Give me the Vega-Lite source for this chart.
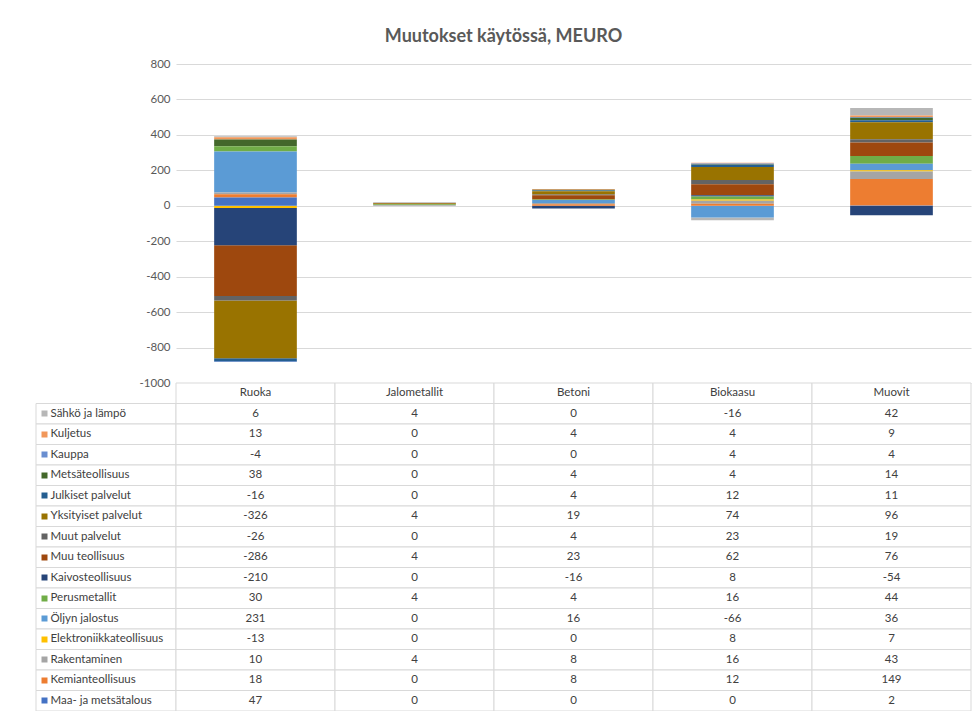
{
  "$schema": "https://vega.github.io/schema/vega-lite/v6.json",
  "padding": {"left": 35, "top": 28, "right": 5, "bottom": 0},
  "background": "white",
  "title": {"text": "Muutokset käytössä, MEURO", "fontSize": 18, "font": "Lato", "fontWeight": "bold", "color": "#595959", "offset": 12, "anchor": "middle"},
  "config": {"font": "Lato", "view": {"stroke": null}},
  "datasets": {
    "cats": [{"cat": "Ruoka"}, {"cat": "Jalometallit"}, {"cat": "Betoni"}, {"cat": "Biokaasu"}, {"cat": "Muovit"}],
    "d": [
      {"series": "Sähkö ja lämpö", "k": 15, "cat": "Ruoka", "v": 6},
      {"series": "Sähkö ja lämpö", "k": 15, "cat": "Jalometallit", "v": 4},
      {"series": "Sähkö ja lämpö", "k": 15, "cat": "Betoni", "v": 0},
      {"series": "Sähkö ja lämpö", "k": 15, "cat": "Biokaasu", "v": -16},
      {"series": "Sähkö ja lämpö", "k": 15, "cat": "Muovit", "v": 42},
      {"series": "Kuljetus", "k": 14, "cat": "Ruoka", "v": 13},
      {"series": "Kuljetus", "k": 14, "cat": "Jalometallit", "v": 0},
      {"series": "Kuljetus", "k": 14, "cat": "Betoni", "v": 4},
      {"series": "Kuljetus", "k": 14, "cat": "Biokaasu", "v": 4},
      {"series": "Kuljetus", "k": 14, "cat": "Muovit", "v": 9},
      {"series": "Kauppa", "k": 13, "cat": "Ruoka", "v": -4},
      {"series": "Kauppa", "k": 13, "cat": "Jalometallit", "v": 0},
      {"series": "Kauppa", "k": 13, "cat": "Betoni", "v": 0},
      {"series": "Kauppa", "k": 13, "cat": "Biokaasu", "v": 4},
      {"series": "Kauppa", "k": 13, "cat": "Muovit", "v": 4},
      {"series": "Metsäteollisuus", "k": 12, "cat": "Ruoka", "v": 38},
      {"series": "Metsäteollisuus", "k": 12, "cat": "Jalometallit", "v": 0},
      {"series": "Metsäteollisuus", "k": 12, "cat": "Betoni", "v": 4},
      {"series": "Metsäteollisuus", "k": 12, "cat": "Biokaasu", "v": 4},
      {"series": "Metsäteollisuus", "k": 12, "cat": "Muovit", "v": 14},
      {"series": "Julkiset palvelut", "k": 11, "cat": "Ruoka", "v": -16},
      {"series": "Julkiset palvelut", "k": 11, "cat": "Jalometallit", "v": 0},
      {"series": "Julkiset palvelut", "k": 11, "cat": "Betoni", "v": 4},
      {"series": "Julkiset palvelut", "k": 11, "cat": "Biokaasu", "v": 12},
      {"series": "Julkiset palvelut", "k": 11, "cat": "Muovit", "v": 11},
      {"series": "Yksityiset palvelut", "k": 10, "cat": "Ruoka", "v": -326},
      {"series": "Yksityiset palvelut", "k": 10, "cat": "Jalometallit", "v": 4},
      {"series": "Yksityiset palvelut", "k": 10, "cat": "Betoni", "v": 19},
      {"series": "Yksityiset palvelut", "k": 10, "cat": "Biokaasu", "v": 74},
      {"series": "Yksityiset palvelut", "k": 10, "cat": "Muovit", "v": 96},
      {"series": "Muut palvelut", "k": 9, "cat": "Ruoka", "v": -26},
      {"series": "Muut palvelut", "k": 9, "cat": "Jalometallit", "v": 0},
      {"series": "Muut palvelut", "k": 9, "cat": "Betoni", "v": 4},
      {"series": "Muut palvelut", "k": 9, "cat": "Biokaasu", "v": 23},
      {"series": "Muut palvelut", "k": 9, "cat": "Muovit", "v": 19},
      {"series": "Muu teollisuus", "k": 8, "cat": "Ruoka", "v": -286},
      {"series": "Muu teollisuus", "k": 8, "cat": "Jalometallit", "v": 4},
      {"series": "Muu teollisuus", "k": 8, "cat": "Betoni", "v": 23},
      {"series": "Muu teollisuus", "k": 8, "cat": "Biokaasu", "v": 62},
      {"series": "Muu teollisuus", "k": 8, "cat": "Muovit", "v": 76},
      {"series": "Kaivosteollisuus", "k": 7, "cat": "Ruoka", "v": -210},
      {"series": "Kaivosteollisuus", "k": 7, "cat": "Jalometallit", "v": 0},
      {"series": "Kaivosteollisuus", "k": 7, "cat": "Betoni", "v": -16},
      {"series": "Kaivosteollisuus", "k": 7, "cat": "Biokaasu", "v": 8},
      {"series": "Kaivosteollisuus", "k": 7, "cat": "Muovit", "v": -54},
      {"series": "Perusmetallit", "k": 6, "cat": "Ruoka", "v": 30},
      {"series": "Perusmetallit", "k": 6, "cat": "Jalometallit", "v": 4},
      {"series": "Perusmetallit", "k": 6, "cat": "Betoni", "v": 4},
      {"series": "Perusmetallit", "k": 6, "cat": "Biokaasu", "v": 16},
      {"series": "Perusmetallit", "k": 6, "cat": "Muovit", "v": 44},
      {"series": "Öljyn jalostus", "k": 5, "cat": "Ruoka", "v": 231},
      {"series": "Öljyn jalostus", "k": 5, "cat": "Jalometallit", "v": 0},
      {"series": "Öljyn jalostus", "k": 5, "cat": "Betoni", "v": 16},
      {"series": "Öljyn jalostus", "k": 5, "cat": "Biokaasu", "v": -66},
      {"series": "Öljyn jalostus", "k": 5, "cat": "Muovit", "v": 36},
      {"series": "Elektroniikkateollisuus", "k": 4, "cat": "Ruoka", "v": -13},
      {"series": "Elektroniikkateollisuus", "k": 4, "cat": "Jalometallit", "v": 0},
      {"series": "Elektroniikkateollisuus", "k": 4, "cat": "Betoni", "v": 0},
      {"series": "Elektroniikkateollisuus", "k": 4, "cat": "Biokaasu", "v": 8},
      {"series": "Elektroniikkateollisuus", "k": 4, "cat": "Muovit", "v": 7},
      {"series": "Rakentaminen", "k": 3, "cat": "Ruoka", "v": 10},
      {"series": "Rakentaminen", "k": 3, "cat": "Jalometallit", "v": 4},
      {"series": "Rakentaminen", "k": 3, "cat": "Betoni", "v": 8},
      {"series": "Rakentaminen", "k": 3, "cat": "Biokaasu", "v": 16},
      {"series": "Rakentaminen", "k": 3, "cat": "Muovit", "v": 43},
      {"series": "Kemianteollisuus", "k": 2, "cat": "Ruoka", "v": 18},
      {"series": "Kemianteollisuus", "k": 2, "cat": "Jalometallit", "v": 0},
      {"series": "Kemianteollisuus", "k": 2, "cat": "Betoni", "v": 8},
      {"series": "Kemianteollisuus", "k": 2, "cat": "Biokaasu", "v": 12},
      {"series": "Kemianteollisuus", "k": 2, "cat": "Muovit", "v": 149},
      {"series": "Maa- ja metsätalous", "k": 1, "cat": "Ruoka", "v": 47},
      {"series": "Maa- ja metsätalous", "k": 1, "cat": "Jalometallit", "v": 0},
      {"series": "Maa- ja metsätalous", "k": 1, "cat": "Betoni", "v": 0},
      {"series": "Maa- ja metsätalous", "k": 1, "cat": "Biokaasu", "v": 0},
      {"series": "Maa- ja metsätalous", "k": 1, "cat": "Muovit", "v": 2}
    ]
  },
  "columns": 2,
  "spacing": 0,
  "bounds": "flush",
  "concat": [
    {
      "width": 140,
      "height": 319,
      "data": {"values": []},
      "mark": "point"
    },
    {
      "width": 795,
      "height": 319,
      "data": {"name": "d"},
      "mark": {"type": "bar"},
      "encoding": {
        "x": {"field": "cat", "type": "nominal", "sort": ["Ruoka", "Jalometallit", "Betoni", "Biokaasu", "Muovit"], "axis": null, "scale": {"paddingInner": 0.48, "paddingOuter": 0.24}},
        "y": {"field": "v", "type": "quantitative", "stack": "zero", "scale": {"domain": [-1000, 800], "nice": false}, "axis": {"values": [-1000, -800, -600, -400, -200, 0, 200, 400, 600, 800], "labelExpr": "'' + datum.value", "title": null, "domain": false, "ticks": false, "labelPadding": 6, "labelColor": "#595959", "labelFontSize": 11.5, "gridColor": "#d9d9d9"}},
        "color": {"field": "series", "type": "nominal", "legend": null, "scale": {
          "domain": ["Maa- ja metsätalous", "Kemianteollisuus", "Rakentaminen", "Elektroniikkateollisuus", "Öljyn jalostus", "Perusmetallit", "Kaivosteollisuus", "Muu teollisuus", "Muut palvelut", "Yksityiset palvelut", "Julkiset palvelut", "Metsäteollisuus", "Kauppa", "Kuljetus", "Sähkö ja lämpö"],
          "range": ["#4472C4", "#ED7D31", "#A5A5A5", "#FFC000", "#5B9BD5", "#70AD47", "#264478", "#9E480E", "#636363", "#997300", "#255E91", "#43682B", "#698ED0", "#F1975A", "#B7B7B7"]}},
        "order": {"field": "k", "type": "quantitative", "sort": "ascending"}
      }
    },
    {
      "width": 140,
      "height": 328,
      "data": {"name": "d"},
      "transform": [{"filter": "datum.cat === 'Ruoka'"}],
      "mark": {"type": "rect", "fill": "white", "stroke": "#d9d9d9", "strokeWidth": 1},
      "encoding": {
        "y": {"field": "series", "type": "nominal", "scale": {"domain": ["_h", "Sähkö ja lämpö", "Kuljetus", "Kauppa", "Metsäteollisuus", "Julkiset palvelut", "Yksityiset palvelut", "Muut palvelut", "Muu teollisuus", "Kaivosteollisuus", "Perusmetallit", "Öljyn jalostus", "Elektroniikkateollisuus", "Rakentaminen", "Kemianteollisuus", "Maa- ja metsätalous"], "paddingInner": 0, "paddingOuter": 0},
          "axis": {"orient": "left", "offset": -11, "zindex": 2, "domain": false, "grid": false, "ticks": true, "tickSize": 6, "tickWidth": 6, "tickCap": "butt",
            "tickColor": {"condition": [
              {"test": "datum.value === 'Maa- ja metsätalous'", "value": "#4472C4"},
              {"test": "datum.value === 'Kemianteollisuus'", "value": "#ED7D31"},
              {"test": "datum.value === 'Rakentaminen'", "value": "#A5A5A5"},
              {"test": "datum.value === 'Elektroniikkateollisuus'", "value": "#FFC000"},
              {"test": "datum.value === 'Öljyn jalostus'", "value": "#5B9BD5"},
              {"test": "datum.value === 'Perusmetallit'", "value": "#70AD47"},
              {"test": "datum.value === 'Kaivosteollisuus'", "value": "#264478"},
              {"test": "datum.value === 'Muu teollisuus'", "value": "#9E480E"},
              {"test": "datum.value === 'Muut palvelut'", "value": "#636363"},
              {"test": "datum.value === 'Yksityiset palvelut'", "value": "#997300"},
              {"test": "datum.value === 'Julkiset palvelut'", "value": "#255E91"},
              {"test": "datum.value === 'Metsäteollisuus'", "value": "#43682B"},
              {"test": "datum.value === 'Kauppa'", "value": "#698ED0"},
              {"test": "datum.value === 'Kuljetus'", "value": "#F1975A"},
              {"test": "datum.value === 'Sähkö ja lämpö'", "value": "#B7B7B7"}
            ], "value": "transparent"},
            "labelAlign": "left", "labelPadding": -9, "labelColor": "#404040", "labelFontSize": 11.5, "labelLimit": 0,
            "labelExpr": "datum.value === '_h' ? '' : datum.value", "title": null}
        }
      }
    },
    {
      "width": 795,
      "height": 328,
      "encoding": {
        "x": {"field": "cat", "type": "nominal", "scale": {"domain": ["Ruoka", "Jalometallit", "Betoni", "Biokaasu", "Muovit"], "paddingInner": 0, "paddingOuter": 0}, "axis": null}
      },
      "layer": [
        {
          "data": {"name": "d"},
          "mark": {"type": "rect", "fill": "white", "stroke": "#d9d9d9", "strokeWidth": 1},
          "encoding": {
            "y": {"field": "series", "type": "nominal", "scale": {"domain": ["_h", "Sähkö ja lämpö", "Kuljetus", "Kauppa", "Metsäteollisuus", "Julkiset palvelut", "Yksityiset palvelut", "Muut palvelut", "Muu teollisuus", "Kaivosteollisuus", "Perusmetallit", "Öljyn jalostus", "Elektroniikkateollisuus", "Rakentaminen", "Kemianteollisuus", "Maa- ja metsätalous"], "paddingInner": 0, "paddingOuter": 0}, "axis": null}
          }
        },
        {
          "data": {"name": "cats"},
          "mark": {"type": "rect", "fill": "white", "stroke": "#d9d9d9", "strokeWidth": 1},
          "encoding": {"y": {"datum": "_h", "type": "nominal"}}
        },
        {
          "data": {"name": "d"},
          "mark": {"type": "text", "fontSize": 11.5, "color": "#404040"},
          "encoding": {
            "y": {"field": "series", "type": "nominal"},
            "text": {"field": "v", "type": "nominal"}
          }
        },
        {
          "data": {"name": "cats"},
          "mark": {"type": "text", "fontSize": 11.5, "color": "#404040"},
          "encoding": {
            "y": {"datum": "_h", "type": "nominal"},
            "text": {"field": "cat", "type": "nominal"}
          }
        }
      ]
    }
  ]
}
